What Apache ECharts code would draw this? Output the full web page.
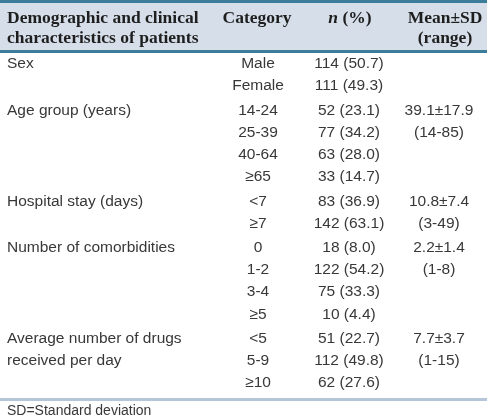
<!DOCTYPE html>
<html>
<head>
<meta charset="utf-8">
<script src="https://cdn.jsdelivr.net/npm/echarts@6/dist/echarts.min.js"></script>
<style>html,body{margin:0;padding:0;background:#fff}#c{width:487px;height:419px}</style>
</head>
<body>
<div id="c"></div>
<script>
// ---- data ----
const headerLine1 = ['Demographic and clinical', 'Category', 'n (%)', 'Mean±SD'];
const headerLine2 = ['characteristics of patients', '', '', '(range)'];
const characteristicLines = [
  ['Sex'],
  ['Age group (years)'],
  ['Hospital stay (days)'],
  ['Number of comorbidities'],
  ['Average number of drugs', 'received per day']
];
const groupCategories = [
  ['Male', 'Female'],
  ['14-24', '25-39', '40-64', '≥65'],
  ['<7', '≥7'],
  ['0', '1-2', '3-4', '≥5'],
  ['<5', '5-9', '≥10']
];
const counts = [
  [114, 111],
  [52, 77, 63, 33],
  [83, 142],
  [18, 122, 75, 10],
  [51, 112, 62]
];
const percents = [
  [50.7, 49.3],
  [23.1, 34.2, 28.0, 14.7],
  [36.9, 63.1],
  [8.0, 54.2, 33.3, 4.4],
  [22.7, 49.8, 27.6]
];
const means = [null, 39.1, 10.8, 2.2, 7.7];
const sds = [null, 17.9, 7.4, 1.4, 3.7];
const ranges = [null, '14-85', '3-49', '1-8', '1-15'];
const footnote = 'SD=Standard deviation';

// ---- layout (styles, not data) ----
const W = 487, H = 419;
const colX = [7, 258, 349, 439];
const colAlign = ['left', 'center', 'center', 'center'];
const groupGap = 0.1;
const bodyFont = '15.5px "Liberation Sans", Arial, sans-serif';
const bodyColor = '#383838';
const headFont = 'bold 17.5px "Liberation Serif", "Times New Roman", serif';
const headColor = '#1e1e1e';
const dark = '#3d7d9c';
const headBg = '#d5dee9';
const lightLine = '#b6c6d9';

// build cell list
const cells = [];
let row = 0;
groupCategories.forEach((cats, g) => {
  const y0 = row + g * groupGap;
  characteristicLines[g].forEach((line, k) => cells.push({ col: 0, y: y0 + k, text: line }));
  cats.forEach((c, i) => {
    cells.push({ col: 1, y: y0 + i, text: c });
    cells.push({ col: 2, y: y0 + i, text: counts[g][i] + ' (' + percents[g][i].toFixed(1) + ')' });
  });
  if (means[g] !== null) {
    cells.push({ col: 3, y: y0, text: means[g].toFixed(1) + '±' + sds[g].toFixed(1) });
    cells.push({ col: 3, y: y0 + 1, text: '(' + ranges[g] + ')' });
  }
  row += cats.length;
});
const lastY = row - 1 + (groupCategories.length - 1) * groupGap;

const chart = echarts.init(document.getElementById('c'), null, { renderer: 'canvas' });

const headerGraphics = [
  { type: 'rect', shape: { x: 0, y: 0, width: W, height: 3 }, style: { fill: dark } },
  { type: 'rect', shape: { x: 0, y: 3, width: W, height: 47 }, style: { fill: headBg } },
  { type: 'rect', shape: { x: 0, y: 50, width: W, height: 3 }, style: { fill: dark } },
  { type: 'rect', shape: { x: 0, y: 398, width: W, height: 3 }, style: { fill: lightLine } },
  { type: 'text', x: 7, y: 411, style: { text: footnote, font: '14px "Liberation Sans", Arial, sans-serif', fill: bodyColor, align: 'left', verticalAlign: 'middle' } }
];
const headX = [7, 257, 350, 445];
headerLine1.forEach((t, i) => {
  const st = { text: t, font: headFont, fill: headColor, align: i === 0 ? 'left' : 'center', verticalAlign: 'middle' };
  if (i === 2) {
    st.text = '{i|n} (%)';
    st.rich = { i: { font: 'italic bold 17.5px "Liberation Serif", serif', fill: headColor } };
  }
  headerGraphics.push({ type: 'text', x: headX[i], y: 18, style: st });
});
headerLine2.forEach((t, i) => {
  if (!t) return;
  headerGraphics.push({ type: 'text', x: headX[i], y: 38, style: { text: t, font: headFont, fill: headColor, align: i === 0 ? 'left' : 'center', verticalAlign: 'middle' } });
});

chart.setOption({
  animation: false,
  backgroundColor: '#fff',
  grid: { left: 0, right: 0, top: 64, bottom: H - 383 },
  xAxis: { type: 'value', min: 0, max: W, show: false },
  yAxis: { type: 'value', min: 0, max: lastY, inverse: true, show: false },
  graphic: headerGraphics,
  series: [{
    type: 'custom',
    coordinateSystem: 'cartesian2d',
    clip: false,
    data: cells.map(c => [colX[c.col], c.y]),
    renderItem: function (params, api) {
      const c = cells[params.dataIndex];
      const p = api.coord([api.value(0), api.value(1)]);
      return {
        type: 'text',
        x: p[0], y: p[1],
        style: { text: c.text, font: bodyFont, fill: bodyColor, align: colAlign[c.col], verticalAlign: 'middle' }
      };
    }
  }]
});
</script>
</body>
</html>
